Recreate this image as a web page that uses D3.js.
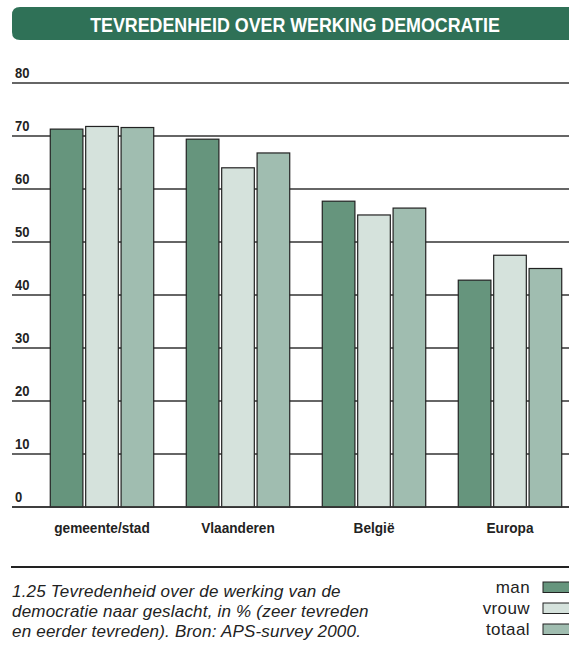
<!DOCTYPE html>
<html><head><meta charset="utf-8">
<script src="https://cdn.jsdelivr.net/npm/d3@7"></script>
<style>
body{margin:0;background:#fff;}
svg{display:block;}
text{font-family:"Liberation Sans",Arial,Helvetica,sans-serif;}
</style></head>
<body><svg id="c" width="569" height="651"></svg>
<script>
const categories = ["gemeente/stad","Vlaanderen","België","Europa"];
const seriesNames = ["man","vrouw","totaal"];
const man    = [71.3, 69.4, 57.7, 42.8];
const vrouw  = [71.8, 64.0, 55.1, 47.5];
const totaal = [71.6, 66.8, 56.4, 45.0];
const yTicks = [0,10,20,30,40,50,60,70,80];
const colors = ["#66957d","#d5e2dc","#a0bdb0"];
const title = "TEVREDENHEID OVER WERKING DEMOCRATIE";
const captionLines = ["1.25  Tevredenheid over de werking van de",
  "democratie naar geslacht, in % (zeer tevreden",
  "en eerder tevreden). Bron: APS-survey 2000."];

const svg = d3.select("#c");
const series = [man, vrouw, totaal];

function condense(sel, k){
  sel.each(function(){
    const w = this.getComputedTextLength();
    d3.select(this).attr("textLength", w*k).attr("lengthAdjust","spacingAndGlyphs");
  });
}

// title bar
const tb = {x:12, y:7, w:557, h:33, r:8};
svg.append("path")
  .attr("d", `M${tb.x+tb.r},${tb.y} H${tb.x+tb.w} V${tb.y+tb.h} H${tb.x+tb.r} Q${tb.x},${tb.y+tb.h} ${tb.x},${tb.y+tb.h-tb.r} V${tb.y+tb.r} Q${tb.x},${tb.y} ${tb.x+tb.r},${tb.y} Z`)
  .attr("fill","#2f7157");
const tg = svg.append("g");
const tt = tg.append("text")
  .attr("x",0).attr("y",0).attr("text-anchor","middle")
  .attr("fill","#fff").attr("font-weight","bold").attr("font-size",21)
  .text(title);
const tw = tt.node().getComputedTextLength();
tg.attr("transform",`translate(295,32) scale(${410/tw},1)`);

const y = d3.scaleLinear().domain([0,80]).range([507,83]);
const x0 = d3.scaleBand().domain(categories).range([12,556]).paddingInner(0).paddingOuter(0);
const x1 = d3.scaleBand().domain(seriesNames).range([36,144]).padding(0.05);

// gridlines
svg.append("g").selectAll("line").data(yTicks).join("line")
  .attr("x1",12).attr("x2",569)
  .attr("y1",d=>y(d)).attr("y2",d=>y(d))
  .attr("stroke","#333").attr("stroke-width",1.3);
svg.append("g").selectAll("text").data(yTicks).join("text")
  .attr("x",15).attr("y",d=>y(d)-5)
  .attr("font-weight","bold").attr("font-size",15.5).attr("fill","#222")
  .text(d=>d)
  .call(condense,0.84);

// bars
const g = svg.append("g");
categories.forEach((c,i)=>{
  seriesNames.forEach((s,j)=>{
    const v = series[j][i];
    g.append("rect")
      .attr("x", x0(c)+x1(s)+0.5)
      .attr("y", y(v))
      .attr("width", x1.bandwidth()-1)
      .attr("height", y(0)-y(v))
      .attr("fill", colors[j])
      .attr("stroke","#222").attr("stroke-width",1.2);
  });
});
svg.append("line").attr("x1",12).attr("x2",569).attr("y1",y(0)).attr("y2",y(0))
  .attr("stroke","#333").attr("stroke-width",1.5);

// category labels
svg.append("g").selectAll("text").data(categories).join("text")
  .attr("x",d=>x0(d)+90).attr("y",533).attr("text-anchor","middle")
  .attr("font-weight","bold").attr("font-size",15.5).attr("fill","#222")
  .text(d=>d)
  .call(condense,0.88);

// bottom rule
svg.append("line").attr("x1",11).attr("x2",569).attr("y1",567).attr("y2",567)
  .attr("stroke","#222").attr("stroke-width",2.2);

// caption
svg.append("g").selectAll("text").data(captionLines).join("text")
  .attr("x",12).attr("y",(d,i)=>597+i*20)
  .attr("font-style","italic").attr("letter-spacing",0.2)
  .attr("font-size",17).attr("fill","#222")
  .text(d=>d);

// legend
const lg = svg.append("g");
seriesNames.forEach((s,j)=>{
  lg.append("text").attr("x",530).attr("y",593+j*21).attr("text-anchor","end")
    .attr("font-size",17).attr("letter-spacing",0.4).attr("fill","#222")
    .text(s);
  lg.append("rect").attr("x",543).attr("y",582+j*21).attr("width",30).attr("height",10.5)
    .attr("fill",colors[j]).attr("stroke","#222").attr("stroke-width",1);
});
</script></body></html>
